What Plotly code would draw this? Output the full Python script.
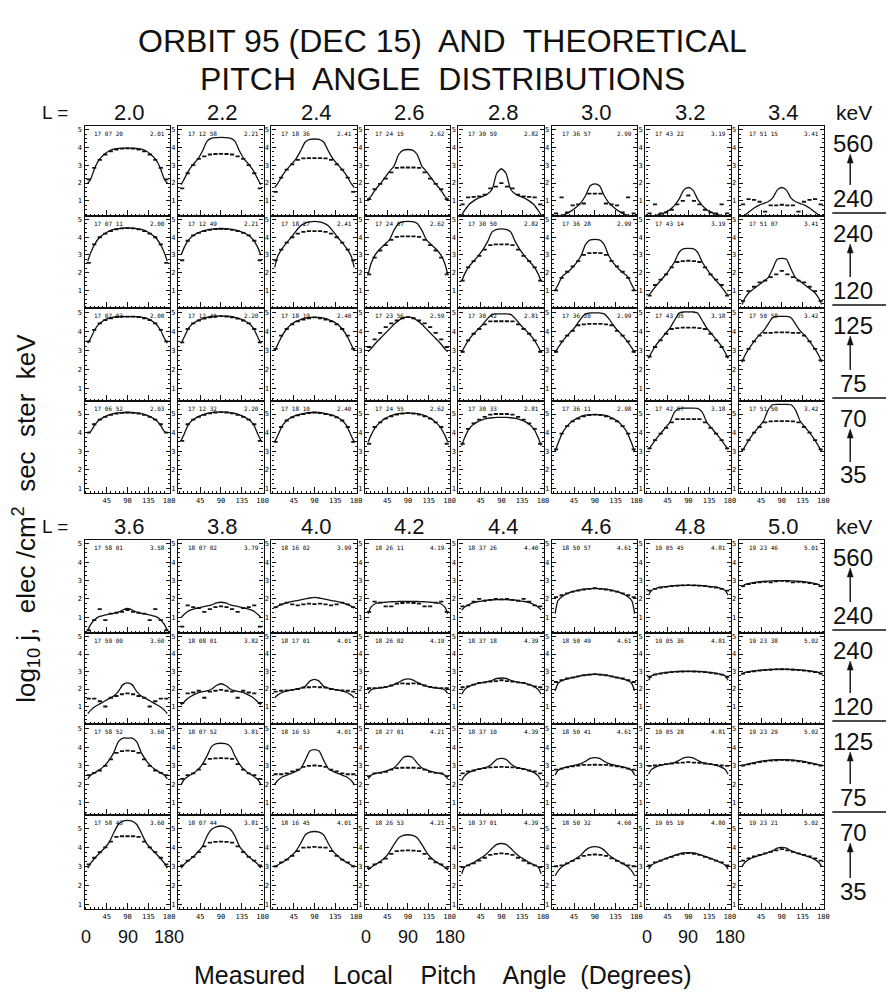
import plotly.graph_objects as go

W, H = 891, 992

# ---------------- data ----------------
L_UPPER = ["2.0", "2.2", "2.4", "2.6", "2.8", "3.0", "3.2", "3.4"]
L_LOWER = ["3.6", "3.8", "4.0", "4.2", "4.4", "4.6", "4.8", "5.0"]
E_TOP = ["560", "240", "125", "70"]
E_BOT = ["240", "120", "75", "35"]
X_TICKS = [45, 90, 135, 180]
Y_TICKS = [1, 2, 3, 4, 5]

# pitch angles (deg) where the theoretical half curve is read (mirrored about 90)
T_ANG = [4, 10, 20, 30, 40, 50, 60, 70, 80, 90]
# centres of the measured pitch-angle bins (mirrored about 90)
M_ANG = [6, 18, 30, 42, 54, 66, 78, 90]

# upper block (L = 2.0 ... 3.4), rows: 560-240, 240-120, 125-75, 70-35 keV
THEO_A1 = [[2.0, 2.2, 2.9, 3.35, 3.62, 3.8, 3.9, 3.94, 3.96, 3.96],
           [1.9, 2.2, 2.7, 3.05, 3.35, 3.8, 4.35, 4.52, 4.55, 4.56],
           [1.75, 1.95, 2.4, 2.75, 3.05, 3.35, 3.8, 4.3, 4.45, 4.47],
           [1.1, 1.25, 1.65, 1.95, 2.3, 2.65, 2.95, 3.6, 3.85, 3.88],
           [0.2, 0.45, 0.8, 1.0, 1.15, 1.25, 1.38, 1.65, 2.55, 2.8],
           [0.1, 0.15, 0.2, 0.3, 0.45, 0.65, 0.9, 1.3, 1.85, 1.95],
           [0.1, 0.12, 0.18, 0.25, 0.35, 0.5, 0.75, 1.1, 1.6, 1.75],
           [0.1, 0.2, 0.4, 0.6, 0.75, 0.85, 0.95, 1.15, 1.6, 1.75]]
MEAS_A1 = [[2.2, 2.85, 3.3, 3.6, 3.78, 3.88, 3.93, 3.95],
           [1.7, 2.55, 3.0, 3.35, 3.5, 3.6, 3.63, 3.64],
           [1.5, 2.3, 2.75, 3.05, 3.3, 3.38, 3.4, 3.4],
           [1.1, 1.65, 1.95, 2.25, 2.6, 2.85, 2.87, 2.87],
           [0.8, 1.2, 1.22, 1.25, 1.35, 1.7, 1.8, 2.0],
           [0.3, 1.2, 0.35, 0.75, 0.8, 0.85, 1.4, 1.4],
           [0.3, 0.8, 0.3, 0.35, 0.5, 0.8, 1.0, 1.3],
           [0.8, 1.1, 1.05, 0.95, 0.4, 0.75, 0.75, 0.78]]
THEO_A2 = [[2.65, 3.1, 3.65, 4.0, 4.2, 4.35, 4.44, 4.49, 4.52, 4.53],
           [3.0, 3.4, 3.85, 4.1, 4.25, 4.35, 4.42, 4.46, 4.48, 4.48],
           [2.3, 2.9, 3.35, 3.7, 4.0, 4.35, 4.65, 4.8, 4.87, 4.9],
           [1.9, 2.5, 3.05, 3.35, 3.6, 3.85, 4.4, 4.78, 4.88, 4.9],
           [1.5, 1.9, 2.35, 2.65, 2.95, 3.3, 3.75, 4.3, 4.45, 4.47],
           [1.0, 1.3, 1.8, 2.0, 2.25, 2.55, 2.95, 3.6, 3.85, 3.88],
           [0.7, 0.9, 1.25, 1.55, 1.85, 2.2, 2.6, 3.15, 3.35, 3.37],
           [0.2, 0.55, 0.9, 1.1, 1.3, 1.5, 1.7, 2.2, 2.75, 2.8]]
MEAS_A2 = [[2.55, 3.6, 4.0, 4.2, 4.35, 4.44, 4.5, 4.52],
           [2.7, 3.8, 4.1, 4.25, 4.35, 4.42, 4.46, 4.48],
           [2.7, 3.3, 3.7, 4.0, 4.2, 4.3, 4.35, 4.35],
           [1.9, 2.85, 3.25, 3.55, 3.85, 4.02, 4.05, 4.05],
           [1.55, 2.3, 2.65, 2.95, 3.3, 3.55, 3.6, 3.6],
           [1.0, 1.7, 2.05, 2.35, 2.65, 3.0, 3.1, 3.12],
           [0.7, 1.3, 1.6, 1.9, 2.3, 2.6, 2.65, 2.67],
           [0.4, 0.95, 1.2, 1.45, 1.55, 1.75, 1.9, 2.1]]
THEO_A3 = [[3.4, 3.65, 4.15, 4.45, 4.62, 4.72, 4.78, 4.8, 4.8, 4.8],
           [3.4, 3.7, 4.2, 4.45, 4.6, 4.7, 4.77, 4.81, 4.83, 4.83],
           [3.0, 3.3, 3.8, 4.15, 4.4, 4.55, 4.65, 4.72, 4.76, 4.77],
           [2.95, 3.1, 3.4, 3.65, 3.9, 4.15, 4.4, 4.6, 4.75, 4.78],
           [2.9, 3.2, 3.6, 3.9, 4.15, 4.4, 4.7, 4.92, 4.95, 4.95],
           [2.9, 3.15, 3.5, 3.8, 4.05, 4.35, 4.7, 4.95, 5.0, 5.0],
           [2.6, 2.9, 3.3, 3.6, 3.9, 4.2, 4.6, 5.0, 5.05, 5.05],
           [2.4, 2.75, 3.15, 3.5, 3.8, 4.05, 4.4, 4.75, 4.82, 4.82]]
MEAS_A3 = [[3.5, 4.1, 4.45, 4.62, 4.72, 4.78, 4.8, 4.8],
           [3.45, 4.15, 4.45, 4.6, 4.7, 4.77, 4.81, 4.83],
           [3.1, 3.8, 4.15, 4.4, 4.55, 4.65, 4.72, 4.76],
           [3.2, 3.6, 3.95, 4.25, 4.45, 4.6, 4.72, 4.78],
           [2.95, 3.55, 3.9, 4.15, 4.4, 4.55, 4.56, 4.56],
           [2.95, 3.5, 3.8, 4.05, 4.35, 4.4, 4.42, 4.42],
           [2.7, 3.2, 3.55, 3.9, 4.15, 4.2, 4.22, 4.22],
           [2.5, 3.1, 3.5, 3.8, 3.95, 3.95, 3.97, 3.97]]
THEO_A4 = [[4.0, 4.05, 4.45, 4.7, 4.85, 4.95, 5.02, 5.06, 5.08, 5.08],
           [3.6, 3.9, 4.45, 4.7, 4.85, 4.95, 5.03, 5.08, 5.1, 5.1],
           [3.5, 3.8, 4.35, 4.65, 4.82, 4.93, 5.0, 5.05, 5.08, 5.08],
           [3.5, 3.85, 4.3, 4.55, 4.75, 4.88, 4.97, 5.02, 5.05, 5.05],
           [3.3, 3.7, 4.2, 4.45, 4.6, 4.7, 4.76, 4.8, 4.82, 4.82],
           [3.0, 3.4, 4.0, 4.35, 4.6, 4.75, 4.87, 4.94, 4.97, 4.97],
           [3.1, 3.3, 3.65, 3.95, 4.25, 4.55, 5.1, 5.3, 5.32, 5.32],
           [3.0, 3.25, 3.65, 4.0, 4.3, 4.6, 5.2, 5.5, 5.52, 5.52]]
MEAS_A4 = [[4.0, 4.45, 4.7, 4.85, 4.95, 5.02, 5.06, 5.08],
           [3.55, 4.45, 4.7, 4.85, 4.95, 5.03, 5.08, 5.1],
           [3.5, 4.3, 4.65, 4.82, 4.93, 5.0, 5.05, 5.08],
           [3.4, 4.3, 4.55, 4.75, 4.88, 4.97, 5.02, 5.05],
           [3.4, 4.2, 4.5, 4.7, 4.85, 4.97, 5.0, 5.0],
           [3.1, 3.95, 4.35, 4.6, 4.75, 4.87, 4.94, 4.97],
           [3.15, 3.6, 3.95, 4.25, 4.55, 4.72, 4.73, 4.73],
           [3.1, 3.6, 4.0, 4.3, 4.55, 4.6, 4.62, 4.62]]

# lower block (L = 3.6 ... 5.0)
THEO_B1 = [[0.3, 0.6, 0.9, 1.05, 1.12, 1.18, 1.22, 1.28, 1.4, 1.48],
           [1.0, 1.15, 1.35, 1.45, 1.52, 1.57, 1.62, 1.68, 1.78, 1.82],
           [1.5, 1.6, 1.7, 1.78, 1.85, 1.9, 1.95, 2.0, 2.05, 2.08],
           [1.2, 1.55, 1.75, 1.8, 1.82, 1.84, 1.85, 1.86, 1.87, 1.87],
           [1.4, 1.55, 1.7, 1.8, 1.86, 1.9, 1.93, 1.95, 1.96, 1.97],
           [1.2, 1.9, 2.15, 2.28, 2.38, 2.45, 2.5, 2.54, 2.56, 2.57],
           [2.2, 2.45, 2.58, 2.63, 2.67, 2.7, 2.72, 2.73, 2.74, 2.74],
           [2.65, 2.78, 2.85, 2.9, 2.93, 2.95, 2.97, 2.98, 2.99, 2.99]]
MEAS_B1 = [[0.3, 0.85, 1.45, 0.85, 1.2, 1.25, 1.3, 1.4],
           [0.5, 1.65, 1.55, 1.5, 1.3, 1.45, 1.55, 1.6],
           [1.55, 1.7, 1.8, 1.7, 1.65, 1.7, 1.75, 1.72],
           [1.3, 1.85, 1.8, 1.6, 1.6, 1.75, 1.78, 1.8],
           [1.6, 1.65, 1.85, 2.0, 1.9, 1.95, 2.0, 1.98],
           [2.1, 2.2, 2.3, 2.4, 2.45, 2.5, 2.55, 2.58],
           [2.45, 2.55, 2.62, 2.66, 2.7, 2.72, 2.74, 2.75],
           [2.7, 2.8, 2.86, 2.9, 2.93, 2.9, 2.96, 2.98]]
THEO_B2 = [[0.6, 0.78, 1.0, 1.15, 1.3, 1.45, 1.6, 1.85, 2.25, 2.35],
           [1.1, 1.25, 1.5, 1.65, 1.78, 1.85, 1.9, 2.0, 2.2, 2.3],
           [1.5, 1.65, 1.8, 1.88, 1.95, 2.0, 2.05, 2.15, 2.45, 2.55],
           [1.75, 1.95, 2.02, 2.06, 2.1, 2.17, 2.25, 2.38, 2.52, 2.58],
           [1.7, 1.95, 2.15, 2.25, 2.32, 2.37, 2.42, 2.5, 2.6, 2.63],
           [1.9, 2.3, 2.5, 2.58, 2.65, 2.7, 2.76, 2.8, 2.83, 2.84],
           [2.5, 2.75, 2.85, 2.9, 2.94, 2.97, 2.99, 3.0, 3.01, 3.01],
           [2.85, 2.95, 3.0, 3.04, 3.07, 3.09, 3.11, 3.12, 3.13, 3.13]]
MEAS_B2 = [[1.45, 1.45, 1.3, 1.0, 1.5, 1.6, 1.7, 1.75],
           [1.2, 1.75, 1.8, 1.9, 1.5, 1.85, 1.9, 1.95],
           [1.85, 1.9, 1.92, 1.95, 2.0, 2.08, 2.1, 2.12],
           [2.05, 2.05, 2.08, 2.12, 2.2, 2.3, 2.32, 2.3],
           [2.1, 2.15, 2.25, 2.35, 2.38, 2.42, 2.45, 2.5],
           [2.4, 2.5, 2.6, 2.65, 2.72, 2.78, 2.82, 2.85],
           [2.7, 2.82, 2.88, 2.93, 2.96, 2.99, 3.0, 3.01],
           [2.88, 2.96, 3.01, 3.05, 3.08, 3.1, 3.12, 3.13]]
THEO_B3 = [[2.3, 2.5, 2.65, 2.8, 3.0, 3.3, 3.7, 4.3, 4.5, 4.5],
           [2.0, 2.25, 2.45, 2.6, 2.8, 3.1, 3.55, 4.05, 4.2, 4.22],
           [2.0, 2.2, 2.4, 2.5, 2.6, 2.7, 2.85, 3.3, 3.8, 3.88],
           [2.3, 2.5, 2.6, 2.65, 2.7, 2.78, 2.9, 3.15, 3.45, 3.52],
           [2.2, 2.45, 2.65, 2.75, 2.82, 2.88, 2.95, 3.12, 3.35, 3.4],
           [2.5, 2.75, 2.88, 2.95, 3.0, 3.05, 3.12, 3.25, 3.4, 3.45],
           [2.55, 2.8, 2.95, 3.03, 3.08, 3.12, 3.18, 3.3, 3.43, 3.47],
           [3.0, 3.05, 3.12, 3.18, 3.23, 3.27, 3.3, 3.32, 3.33, 3.33]]
MEAS_B3 = [[2.5, 2.62, 2.75, 3.0, 3.35, 3.7, 3.8, 3.82],
           [2.3, 2.5, 2.6, 2.8, 3.1, 3.38, 3.4, 3.42],
           [2.55, 2.55, 2.6, 2.7, 2.8, 2.95, 3.0, 3.02],
           [2.45, 2.6, 2.62, 2.68, 2.8, 2.88, 2.9, 2.9],
           [2.6, 2.7, 2.75, 2.82, 2.88, 2.92, 2.93, 2.95],
           [2.8, 2.85, 2.92, 2.98, 3.02, 3.05, 3.05, 3.06],
           [3.0, 3.02, 3.05, 3.1, 3.13, 3.16, 3.18, 3.2],
           [3.02, 3.08, 3.14, 3.2, 3.24, 3.28, 3.3, 3.32]]
THEO_B4 = [[2.9, 3.15, 3.45, 3.7, 3.95, 4.25, 4.75, 5.2, 5.38, 5.42],
           [2.9, 3.1, 3.3, 3.5, 3.75, 4.05, 4.6, 4.95, 5.08, 5.12],
           [2.95, 3.05, 3.2, 3.35, 3.55, 3.8, 4.2, 4.65, 4.8, 4.83],
           [2.8, 2.95, 3.1, 3.25, 3.45, 3.75, 4.15, 4.5, 4.63, 4.66],
           [2.6, 2.95, 3.08, 3.2, 3.35, 3.5, 3.7, 3.95, 4.15, 4.2],
           [2.5, 2.75, 3.0, 3.15, 3.28, 3.42, 3.6, 3.85, 4.0, 4.03],
           [2.85, 3.05, 3.2, 3.3, 3.4, 3.5, 3.58, 3.65, 3.7, 3.72],
           [3.0, 3.2, 3.38, 3.48, 3.56, 3.64, 3.72, 3.82, 3.95, 4.0]]
MEAS_B4 = [[3.1, 3.45, 3.75, 4.0, 4.3, 4.55, 4.58, 4.58],
           [3.05, 3.3, 3.5, 3.75, 4.05, 4.25, 4.28, 4.3],
           [3.0, 3.2, 3.35, 3.55, 3.8, 3.98, 4.0, 4.02],
           [2.9, 3.1, 3.2, 3.4, 3.65, 3.8, 3.82, 3.84],
           [2.95, 3.05, 3.15, 3.3, 3.45, 3.6, 3.65, 3.68],
           [3.0, 3.05, 3.15, 3.28, 3.42, 3.55, 3.6, 3.62],
           [3.05, 3.2, 3.3, 3.4, 3.5, 3.6, 3.66, 3.7],
           [3.3, 3.42, 3.52, 3.6, 3.68, 3.76, 3.84, 3.9]]

# panel header stamps (UT and L)
TIME_A1 = ["17 07 20", "17 12 58", "17 18 36", "17 24 15", "17 30 59", "17 36 57", "17 43 22", "17 51 15"]
TIME_A2 = ["17 07 11", "17 12 49", "17 18 27", "17 24 07", "17 30 50", "17 36 28", "17 43 14", "17 51 07"]
TIME_A3 = ["17 07 03", "17 12 41", "17 18 19", "17 23 56", "17 30 42", "17 36 20", "17 43 05", "17 50 58"]
TIME_A4 = ["17 06 52", "17 12 32", "17 18 10", "17 24 55", "17 30 33", "17 36 11", "17 42 57", "17 51 50"]
TIME_B1 = ["17 58 01", "18 07 02", "18 16 02", "18 26 11", "18 37 26", "18 50 57", "19 05 45", "19 23 46"]
TIME_B2 = ["17 59 00", "18 08 01", "18 17 01", "18 26 02", "18 37 18", "18 50 49", "19 05 36", "19 23 38"]
TIME_B3 = ["17 58 52", "18 07 52", "18 16 53", "18 27 01", "18 37 10", "18 50 41", "19 05 28", "19 23 29"]
TIME_B4 = ["17 58 43", "18 07 44", "18 16 45", "18 26 53", "18 37 01", "18 50 32", "19 05 19", "19 23 21"]
LV_A1 = ["2.01", "2.21", "2.41", "2.62", "2.82", "2.99", "3.19", "3.41"]
LV_A2 = ["2.00", "2.21", "2.41", "2.62", "2.82", "2.99", "3.19", "3.41"]
LV_A3 = ["2.00", "2.20", "2.40", "2.59", "2.81", "2.99", "3.18", "3.42"]
LV_A4 = ["2.03", "2.20", "2.40", "2.62", "2.81", "2.98", "3.18", "3.42"]
LV_B1 = ["3.58", "3.79", "3.99", "4.19", "4.40", "4.61", "4.81", "5.01"]
LV_B2 = ["3.60", "3.82", "4.01", "4.19", "4.39", "4.61", "4.81", "5.02"]
LV_B3 = ["3.60", "3.81", "4.01", "4.21", "4.39", "4.61", "4.81", "5.02"]
LV_B4 = ["3.60", "3.81", "4.01", "4.21", "4.39", "4.60", "4.80", "5.02"]

# ---------------- layout geometry (pixels) ----------------
COL_LEFT = [85 + 94 * i for i in range(8)]
PANEL_W = 86
ROW_EDGES = {"A": [126, 216, 308, 401, 493], "B": [540, 633, 724, 815, 909]}
Y_RANGES = [[0.15, 5.2], [0.0, 5.2], [0.35, 5.26], [0.75, 5.7]]
X_RANGE = [-3, 182]

BLOCKS = {
    "A": dict(theo=[THEO_A1, THEO_A2, THEO_A3, THEO_A4], meas=[MEAS_A1, MEAS_A2, MEAS_A3, MEAS_A4],
              time=[TIME_A1, TIME_A2, TIME_A3, TIME_A4], lv=[LV_A1, LV_A2, LV_A3, LV_A4], L=L_UPPER),
    "B": dict(theo=[THEO_B1, THEO_B2, THEO_B3, THEO_B4], meas=[MEAS_B1, MEAS_B2, MEAS_B3, MEAS_B4],
              time=[TIME_B1, TIME_B2, TIME_B3, TIME_B4], lv=[LV_B1, LV_B2, LV_B3, LV_B4], L=L_LOWER),
}

INK = "#111111"
TXT_FONT = "Liberation Sans, Arial, sans-serif"
NARROW = "Liberation Sans Narrow, Liberation Sans, Arial, sans-serif"
MONO = "DejaVu Sans Mono, monospace"


def px_x(p):
    return p / W


def px_y(p):
    return 1 - p / H


fig = go.Figure()
layout = dict(width=W, height=H, autosize=False, margin=dict(l=0, r=0, t=0, b=0),
              paper_bgcolor="white", plot_bgcolor="white", showlegend=False)
annotations = []
shapes = []

full_t_ang = T_ANG + [180 - a for a in reversed(T_ANG[:-1])]
full_m_ang = M_ANG + [180 - a for a in reversed(M_ANG[:-1])]

k = 0
for bname in ["A", "B"]:
    blk = BLOCKS[bname]
    edges = ROW_EDGES[bname]
    for r in range(4):
        for c in range(8):
            k += 1
            sfx = "" if k == 1 else str(k)
            x0, x1 = COL_LEFT[c], COL_LEFT[c] + PANEL_W
            y0, y1 = edges[r], edges[r + 1]
            layout["xaxis" + sfx] = dict(
                domain=[px_x(x0), px_x(x1)], anchor="y" + sfx, range=X_RANGE,
                showline=True, linecolor=INK, linewidth=1.3, mirror=True,
                ticks="inside", tickvals=X_TICKS, ticktext=[str(v) for v in X_TICKS],
                ticklen=6, tickwidth=1, tickcolor=INK,
                showticklabels=(r == 3), tickfont=dict(size=7, color="#000000", family=MONO),
                showgrid=False, zeroline=False, fixedrange=True,
                minor=dict(ticks="inside", ticklen=2, tickmode="linear", tick0=0, dtick=9,
                           tickcolor=INK, showgrid=False))
            layout["yaxis" + sfx] = dict(
                domain=[px_y(y1), px_y(y0)], anchor="x" + sfx, range=Y_RANGES[r],
                showline=True, linecolor=INK, linewidth=1.3, mirror="ticks",
                ticks="inside", tickvals=Y_TICKS, ticktext=[str(v) for v in Y_TICKS],
                ticklen=4, tickwidth=1, tickcolor=INK,
                tickfont=dict(size=7, color="#000000", family=MONO),
                showgrid=False, zeroline=False, fixedrange=True,
                minor=dict(ticks="inside", ticklen=2, tickmode="linear", tick0=0, dtick=0.25,
                           tickcolor=INK, showgrid=False))

            theo = blk["theo"][r][c]
            meas = blk["meas"][r][c]
            ty = theo + list(reversed(theo[:-1]))
            my = meas + list(reversed(meas[:-1]))

            fig.add_trace(go.Scatter(
                x=full_t_ang, y=ty, mode="lines", xaxis="x" + sfx, yaxis="y" + sfx,
                line=dict(color=INK, width=1.3, shape="spline", smoothing=0.6),
                hoverinfo="skip"))
            dx, dy = [], []
            for a, v in zip(full_m_ang, my):
                dx += [a - 4.5, a + 4.5, None]
                dy += [v, v, None]
            fig.add_trace(go.Scatter(
                x=dx, y=dy, mode="lines", xaxis="x" + sfx, yaxis="y" + sfx,
                line=dict(color=INK, width=1.8), hoverinfo="skip"))

            # header stamps
            annotations.append(dict(xref="paper", yref="paper", x=px_x(x0 + 8), y=px_y(y0 + 1.5),
                                    xanchor="left", yanchor="top", showarrow=False,
                                    text=blk["time"][r][c], font=dict(size=6, color="#000000", family=MONO)))
            annotations.append(dict(xref="paper", yref="paper", x=px_x(x1 - 3), y=px_y(y0 + 1.5),
                                    xanchor="right", yanchor="top", showarrow=False,
                                    text=blk["lv"][r][c], font=dict(size=6, color="#000000", family=MONO)))

        # right-hand energy labels with upward arrow
        rt, rb = edges[r], edges[r + 1]
        annotations.append(dict(xref="paper", yref="paper", x=px_x(858), y=px_y(rt + 17),
                                xanchor="center", yanchor="middle", showarrow=False,
                                text=E_TOP[r], font=dict(size=24, color=INK, family=TXT_FONT)))
        annotations.append(dict(xref="paper", yref="paper", x=px_x(858), y=px_y(rb - 18),
                                xanchor="center", yanchor="middle", showarrow=False,
                                text=E_BOT[r], font=dict(size=24, color=INK, family=TXT_FONT)))
        ax_ = 855
        shapes.append(dict(type="line", xref="paper", yref="paper",
                           x0=px_x(ax_), x1=px_x(ax_), y0=px_y(rt + 33), y1=px_y(rb - 31),
                           line=dict(color=INK, width=1.4)))
        shapes.append(dict(type="path", xref="paper", yref="paper",
                           path="M {:.5f},{:.5f} L {:.5f},{:.5f} L {:.5f},{:.5f} Z".format(
                               px_x(ax_), px_y(rt + 28), px_x(ax_ - 3), px_y(rt + 37),
                               px_x(ax_ + 3), px_y(rt + 37)),
                           fillcolor=INK, line=dict(color=INK, width=0.5)))
        if r < 3:
            shapes.append(dict(type="line", xref="paper", yref="paper",
                               x0=px_x(837), x1=px_x(891), y0=px_y(rb - 3), y1=px_y(rb - 3),
                               line=dict(color=INK, width=1.3)))

    # column header row
    hy = edges[0] - 14
    annotations.append(dict(xref="paper", yref="paper", x=px_x(55), y=px_y(hy),
                            xanchor="center", yanchor="middle", showarrow=False,
                            text="L =", font=dict(size=19, color=INK, family=NARROW)))
    for c in range(8):
        annotations.append(dict(xref="paper", yref="paper", x=px_x(COL_LEFT[c] + PANEL_W / 2 + 2),
                                y=px_y(hy), xanchor="center", yanchor="middle", showarrow=False,
                                text=blk["L"][c], font=dict(size=22, color=INK, family=NARROW)))
    annotations.append(dict(xref="paper", yref="paper", x=px_x(859), y=px_y(hy),
                            xanchor="center", yanchor="middle", showarrow=False,
                            text="keV", font=dict(size=21, color=INK, family=TXT_FONT)))

# bottom angle scale under columns 1, 4, 7
for c in [0, 3, 6]:
    for ang, lab in [(0, "0"), (90, "90"), (180, "180")]:
        xp = COL_LEFT[c] + (ang - X_RANGE[0]) / (X_RANGE[1] - X_RANGE[0]) * PANEL_W
        annotations.append(dict(xref="paper", yref="paper", x=px_x(xp), y=px_y(937),
                                xanchor="center", yanchor="middle", showarrow=False,
                                text=lab, font=dict(size=18, color=INK, family=NARROW)))

# titles
annotations.append(dict(xref="paper", yref="paper", x=px_x(445), y=px_y(41),
                        xanchor="center", yanchor="middle", showarrow=False,
                        text="ORBIT 95 (DEC 15)  AND  THEORETICAL",
                        font=dict(size=32, color=INK, family=TXT_FONT)))
annotations.append(dict(xref="paper", yref="paper", x=px_x(445), y=px_y(79),
                        xanchor="center", yanchor="middle", showarrow=False,
                        text="PITCH  ANGLE  DISTRIBUTIONS",
                        font=dict(size=32, color=INK, family=TXT_FONT)))
annotations.append(dict(xref="paper", yref="paper", x=px_x(445), y=px_y(975),
                        xanchor="center", yanchor="middle", showarrow=False,
                        text="Measured    Local    Pitch    Angle  (Degrees)",
                        font=dict(size=25, color=INK, family=TXT_FONT)))
annotations.append(dict(xref="paper", yref="paper", x=px_x(26), y=px_y(518),
                        xanchor="center", yanchor="middle", showarrow=False, textangle=-90,
                        text="log<sub>10</sub> j,  elec /cm<sup>2</sup>  sec  ster  keV",
                        font=dict(size=26, color=INK, family=TXT_FONT)))

layout["annotations"] = annotations
layout["shapes"] = shapes
fig.update_layout(**layout)
fig.write_html("out.html")
